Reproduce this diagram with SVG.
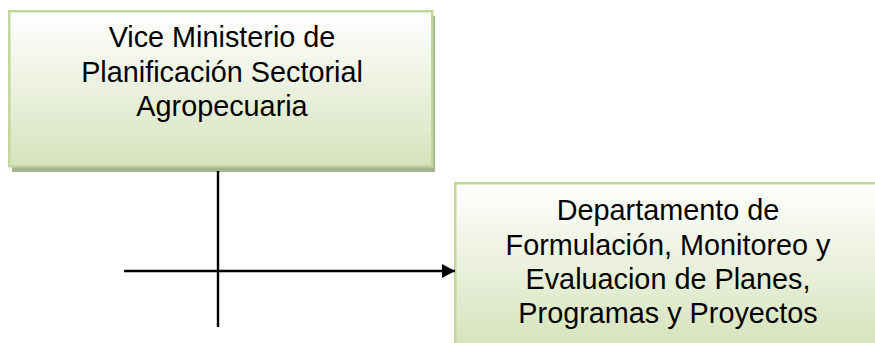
<svg xmlns="http://www.w3.org/2000/svg" width="875" height="343" viewBox="0 0 875 343">
<defs>
<linearGradient id="g" x1="0" y1="0" x2="0" y2="1">
<stop offset="0" stop-color="#ffffff"/>
<stop offset="1" stop-color="#d6e3bc"/>
</linearGradient>
<marker id="arr" viewBox="0 0 13 14" refX="13" refY="7" markerWidth="13" markerHeight="14" markerUnits="userSpaceOnUse" orient="auto">
<path d="M0,0 L13,7 L0,14 Z" fill="#000"/>
</marker>
<style>
.shadow{fill:#a7b290}
.box{fill:url(#g);stroke:#c3d69b;stroke-width:2.5}
.t{font-family:"Liberation Sans",Arial,sans-serif;font-size:28.8px;fill:#000;text-anchor:middle}
.c{stroke:#000;stroke-width:2.4;fill:none}
</style>
</defs>
<g id="node1">
<rect class="shadow" x="12" y="16" width="423" height="156"/>
<rect class="box" x="9.25" y="11.25" width="423" height="155"/>
<text class="t" x="222" y="47">Vice Ministerio de</text>
<text class="t" x="222" y="81.5">Planificación Sectorial</text>
<text class="t" x="222" y="116">Agropecuaria</text>
</g>
<g id="node2">
<rect class="box" x="455.25" y="183.25" width="430" height="162"/>
<text class="t" x="668" y="220">Departamento de</text>
<text class="t" x="668" y="254.5">Formulación, Monitoreo y</text>
<text class="t" x="668" y="288.5">Evaluacion de Planes,</text>
<text class="t" x="668" y="322.5">Programas y Proyectos</text>
</g>
<g id="connectors">
<line class="c" x1="218" y1="171" x2="218" y2="327"/>
<line class="c" x1="124" y1="271" x2="455" y2="271" marker-end="url(#arr)"/>
</g>
</svg>
